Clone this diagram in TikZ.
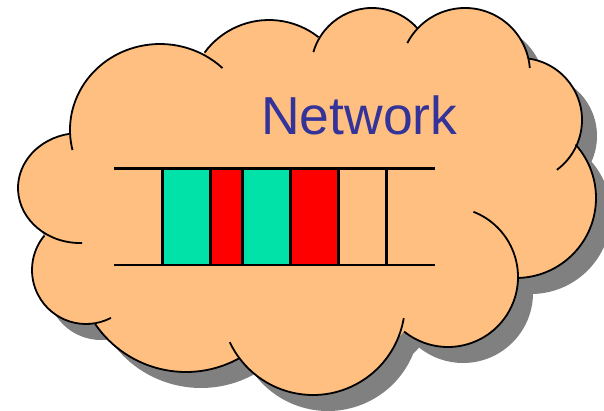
\documentclass[tikz,border=0pt]{standalone}
\usepackage{fontspec}
\setmainfont{Liberation Sans}
\usetikzlibrary{calc}

\definecolor{cloudfill}{HTML}{FFBF80}
\definecolor{shadowgray}{HTML}{808080}
\definecolor{cellgreen}{HTML}{00E2A8}
\definecolor{cellred}{HTML}{FF0000}
\definecolor{netblue}{HTML}{333399}

% outer border of the cloud, lobe by lobe
\newcommand\cloudoutline{%
	($(lobeA)+({62*cos(122.9)},{55*sin(122.9)})$)
	\foreach \c/\s/\e/\rx/\ry in {A/122.9/260/62/55, B/175.4/299.2/90/86, C/216.3/308.3/80/80,
		D/209.9/317.7/61/61, E/223.2/346.8/65/65, F/278.3/384.4/62/62, G/318.1/448.5/80/80,
		H/360/488.8/70/70, I/22.1/143/92/92, J/60.6/145.6/110/110, K/78.3/219.7/54/54}{
		-- ($(lobe\c)+({\rx*cos(\s)},{\ry*sin(\s)})$) arc[start angle=\s, end angle=\e, x radius=\rx, y radius=\ry]
	} -- cycle}

\begin{document}
\begin{tikzpicture}[x=1pt, y=-1pt,
	cloudline/.style={line width=1.8pt, black},
	queueline/.style={line width=2.6pt, black}]
	\useasboundingbox (0,0) rectangle (604,411);

	% lobe centres
	\coordinate (lobeA) at (80,188);
	\coordinate (lobeB) at (160,130);
	\coordinate (lobeC) at (269,100);
	\coordinate (lobeD) at (372,69);
	\coordinate (lobeE) at (465,73);
	\coordinate (lobeF) at (520,120);
	\coordinate (lobeG) at (516,198);
	\coordinate (lobeH) at (448,277);
	\coordinate (lobeI) at (313,303);
	\coordinate (lobeJ) at (186,262);
	\coordinate (lobeK) at (86,270);

	% shadow
	\begin{scope}[transform canvas={shift={(15,16)}}]
		\fill[shadowgray] \cloudoutline;
	\end{scope}
	\fill[cloudfill] \cloudoutline;

	% lobe borders with their inner ends
	\foreach \c/\s/\e/\rx/\ry in {A/88/260/62/55, B/166.5/314/90/86, C/216.3/308.3/80/80,
		D/196.1/317.7/61/61, E/207.4/355.6/65/65, F/278.3/413.5/62/62, G/318.1/448.5/80/80,
		H/291.3/488.8/70/70, I/9.5/154.8/92/92, J/60.6/145.6/110/110, K/62.5/219.7/54/54}
		\draw[cloudline] ($(lobe\c)+({\rx*cos(\s)},{\ry*sin(\s)})$) arc[start angle=\s, end angle=\e, x radius=\rx, y radius=\ry];

	\node[anchor=base west, inner sep=0pt, text=netblue, font=\fontsize{53.5}{60}\selectfont] (netlabel) at (261,135) {Network};

	% queue
	\foreach \l/\r/\col in {162.7/210.7/cellgreen, 210.7/242.7/cellred, 242.7/290.7/cellgreen, 290.7/338.7/cellred}
		\draw[queueline, fill=\col] (\l,168.7) rectangle (\r,265);
	\draw[queueline] (338.7,168.7) -- (338.7,265) (386.7,168.7) -- (386.7,265);
	\draw[queueline] (114,168.7) -- (435,168.7) (114,265) -- (435,265);
\end{tikzpicture}
\end{document}
